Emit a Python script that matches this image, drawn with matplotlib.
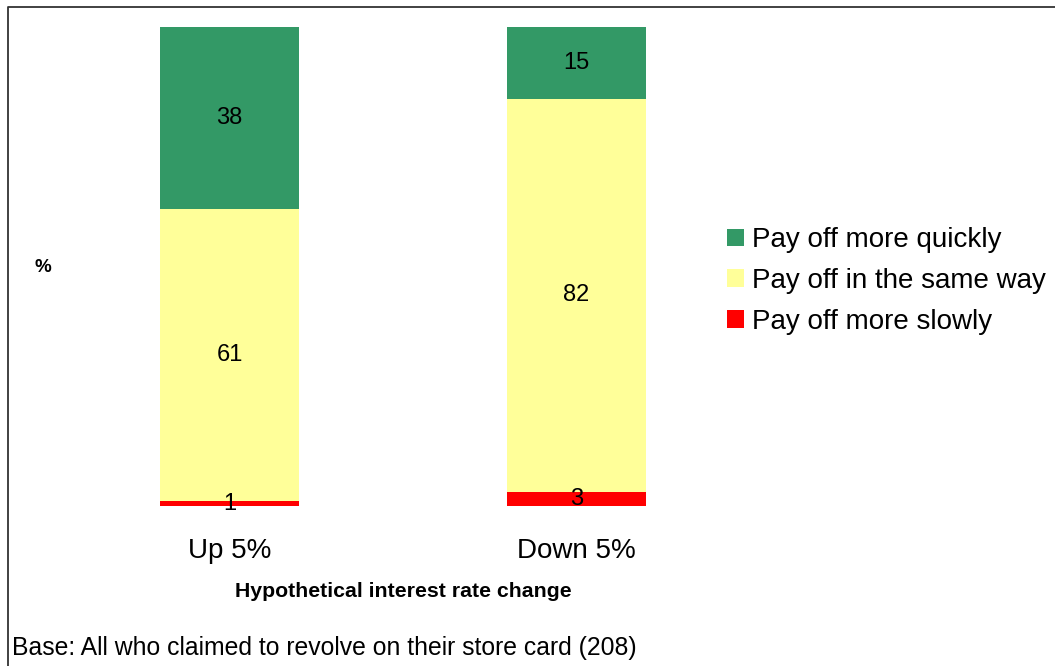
import numpy as np
import matplotlib
matplotlib.use('Agg')
import matplotlib.pyplot as plt
from matplotlib.lines import Line2D

plt.rcParams['font.family'] = ['Liberation Sans', 'DejaVu Sans']

categories = ['Up 5%', 'Down 5%']
series_names = ['Pay off more quickly', 'Pay off in the same way', 'Pay off more slowly']
slowly = [1, 3]
same = [61, 82]
quickly = [38, 15]
colors = ['#339966', '#FFFF99', '#FF0000']

W, H = 1055, 666
fig = plt.figure(figsize=(W / 100, H / 100), dpi=100)

# axes placed in pixel terms: bars bottom 506px, top 27px
ax = fig.add_axes([60 / W, (H - 506) / H, 640 / W, 479 / H])
x = np.arange(len(categories))
width = 0.4

slowly = np.array(slowly)
same = np.array(same)
quickly = np.array(quickly)

b_slow = ax.bar(x, slowly, width, color=colors[2], label=series_names[2])
b_same = ax.bar(x, same, width, bottom=slowly, color=colors[1], label=series_names[1])
b_quick = ax.bar(x, quickly, width, bottom=slowly + same, color=colors[0], label=series_names[0])

for bars, vals, bottoms in [(b_slow, slowly, np.zeros(2)), (b_same, same, slowly),
                            (b_quick, quickly, slowly + same)]:
    for xi, v, b in zip(x, vals, bottoms):
        ax.text(xi, b + v / 2, str(v), ha='center', va='center', fontsize=17)

ax.set_xlim((60 - 229.5) / 347, (700 - 229.5) / 347)
ax.set_ylim(0, 100)
ax.set_xticks(x)
ax.set_xticklabels(categories, fontsize=20)
ax.tick_params(axis='x', length=0, pad=23)
ax.set_yticks([])
for s in ax.spines.values():
    s.set_visible(False)

ax.set_xlabel('Hypothetical interest rate change', fontsize=15.3, fontweight='bold')
ax.xaxis.set_label_coords(0.5364, (506 - 582) / 479)
ax.set_ylabel('%', fontsize=13.5, fontweight='bold', rotation=0, ha='center', va='center')
ax.yaxis.set_label_coords((43 - 60) / 640, (506 - 268) / 479)

ax.legend(handles=[b_quick, b_same, b_slow], loc='center left',
          bbox_to_anchor=(727 / W, (H - 281) / H), bbox_transform=fig.transFigure,
          frameon=False, fontsize=20, borderpad=0, borderaxespad=0,
          handlelength=0.61, handleheight=0.61, handletextpad=0.29, labelspacing=0.53)

fig.text(12 / W, (H - 648) / H, 'Base: All who claimed to revolve on their store card (208)',
         fontsize=17.8, ha='left', va='center')

# outer frame (left and top edges visible)
fig.add_artist(Line2D([8 / W, 8 / W, 1.0], [0.0, (H - 7) / H, (H - 7) / H],
                      transform=fig.transFigure, color='#333333', lw=1.3))

fig.savefig('out.png', dpi=100)
